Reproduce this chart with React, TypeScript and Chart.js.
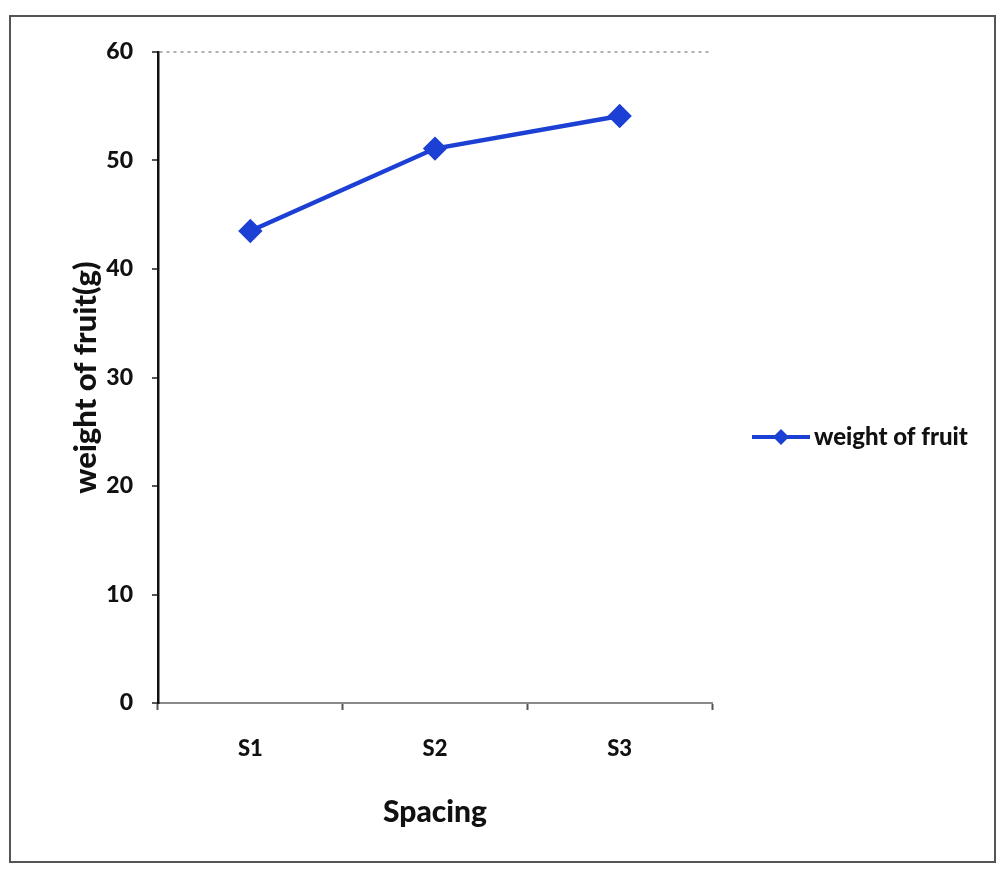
import React, { useEffect, useRef } from "react";
import { Chart, registerables } from "chart.js";

Chart.register(...registerables);

const categories: string[] = ["S1", "S2", "S3"];
const weightOfFruit: number[] = [43.5, 51.1, 54.1];
const seriesLabel = "weight of fruit";
const yTitle = "weight of fruit(g)";
const xTitle = "Spacing";
const yMin = 0;
const yMax = 60;
const yStep = 10;

const BLUE = "#1c40d4";
const FONT = "Lato, 'Open Sans', sans-serif";

const framePlugin = {
  id: "frame",
  beforeDraw(chart: any) {
    const ctx = chart.ctx;
    ctx.save();
    ctx.fillStyle = "#ffffff";
    ctx.fillRect(0, 0, chart.width, chart.height);
    ctx.strokeStyle = "#555555";
    ctx.lineWidth = 2;
    ctx.strokeRect(10, 16, 985, 846);
    ctx.restore();
  },
};

const legendPlugin = {
  id: "customLegend",
  afterDraw(chart: any) {
    const ctx = chart.ctx;
    const ds = chart.data.datasets[0];
    const y = 437;
    ctx.save();
    ctx.strokeStyle = ds.borderColor;
    ctx.lineWidth = 4;
    ctx.beginPath();
    ctx.moveTo(752, y);
    ctx.lineTo(810, y);
    ctx.stroke();
    ctx.fillStyle = ds.pointBackgroundColor;
    ctx.beginPath();
    const r = 8;
    ctx.moveTo(781, y - r);
    ctx.lineTo(781 + r, y);
    ctx.lineTo(781, y + r);
    ctx.lineTo(781 - r, y);
    ctx.closePath();
    ctx.fill();
    ctx.fillStyle = "#111111";
    ctx.font = `900 24px ${FONT}`;
    ctx.textBaseline = "middle";
    ctx.textAlign = "left";
    ctx.fillText(ds.label, 814, y);
    ctx.restore();
  },
};

export default function App() {
  const ref = useRef<HTMLCanvasElement | null>(null);
  useEffect(() => {
    if (!ref.current) return;
    const chart = new Chart(ref.current, {
      type: "line",
      data: {
        labels: categories,
        datasets: [
          {
            label: seriesLabel,
            data: weightOfFruit,
            borderColor: BLUE,
            backgroundColor: BLUE,
            pointBackgroundColor: BLUE,
            pointBorderColor: BLUE,
            borderWidth: 4.5,
            pointStyle: "rectRot",
            pointRadius: 9,
            tension: 0,
          },
        ],
      },
      options: {
        animation: false,
        responsive: false,
        maintainAspectRatio: false,
        layout: { padding: { left: 0, top: 52, right: 288, bottom: 0 } },
        plugins: { legend: { display: false }, tooltip: { enabled: false } },
        scales: {
          x: {
            offset: true,
            grid: {
              offset: true,
              drawOnChartArea: false,
              tickLength: 7,
              tickColor: "#555555",
              tickWidth: 2,
            },
            border: { color: "#8a8a8a", width: 2 },
            ticks: {
              color: "#111111",
              font: { family: FONT, size: 22, weight: 900 },
              padding: 26,
            },
            title: {
              display: true,
              text: xTitle,
              color: "#111111",
              font: { family: FONT, size: 30, weight: 900 },
              padding: { top: 0, bottom: 40 },
            },
            afterFit(scale: any) {
              scale.height = 167;
            },
          },
          y: {
            min: yMin,
            max: yMax,
            grid: {
              color: (c: any) => (c.tick && c.tick.value === yMax ? "#b0b0b0" : "rgba(0,0,0,0)"),
              tickColor: "#555555",
              tickLength: 6,
              lineWidth: 2,
            },
            border: { color: "#111111", width: 2.5, dash: [3, 4] },
            ticks: {
              stepSize: yStep,
              color: "#111111",
              font: { family: FONT, size: 23, weight: 900 },
              padding: 19,
            },
            title: {
              display: true,
              text: yTitle,
              color: "#111111",
              font: { family: FONT, size: 31, weight: 900 },
              padding: { top: 67, bottom: 0 },
            },
            afterFit(scale: any) {
              scale.width = 158;
            },
          },
        },
      },
      plugins: [framePlugin, legendPlugin],
    });
    return () => chart.destroy();
  }, []);
  return (
    <div style={{ position: "fixed", left: 0, top: 0, width: 1000, height: 870, background: "#fff" }}>
      <canvas ref={ref} width={1000} height={870} style={{ display: "block" }} />
    </div>
  );
}
